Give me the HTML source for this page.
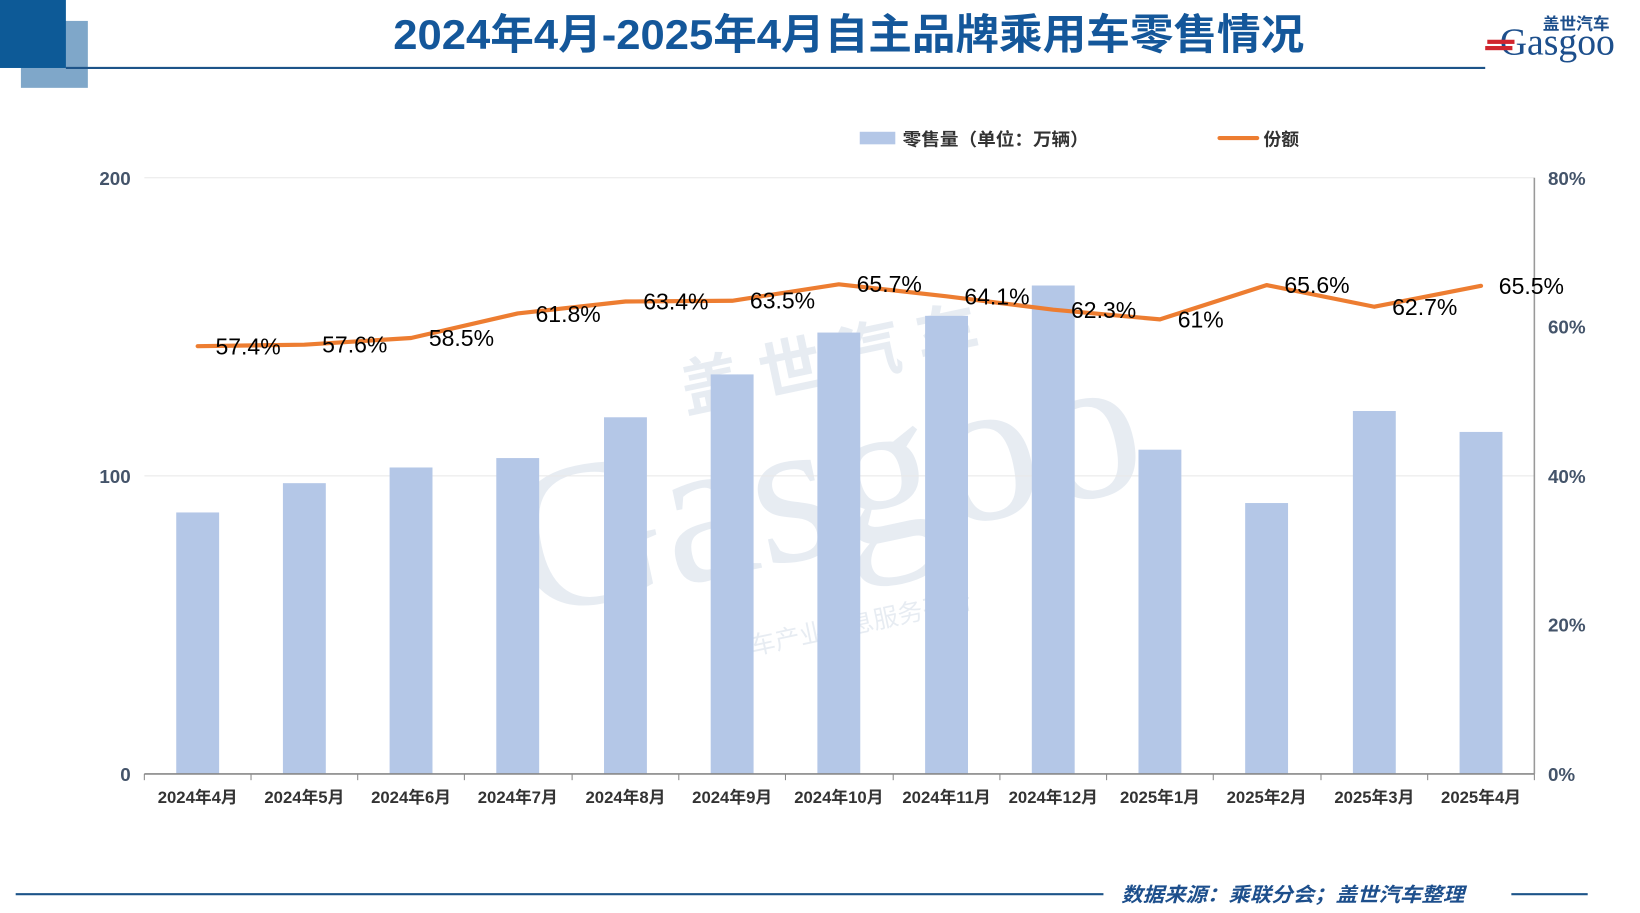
<!DOCTYPE html>
<html><head><meta charset="utf-8"><style>html,body{margin:0;padding:0;background:#fff}svg{display:block}</style></head>
<body>
<svg width="1640" height="913" viewBox="0 0 1568 873" preserveAspectRatio="none" xmlns="http://www.w3.org/2000/svg" font-family="Liberation Sans, Noto Sans CJK SC, sans-serif">
<rect x="20" y="20" width="64" height="64" fill="#7fa7c9"/>
<rect x="0" y="0" width="63" height="65" fill="#0d5a97"/>
<line x1="63" y1="65" x2="1420" y2="65" stroke="#1d5489" stroke-width="2"/>
<text x="376" y="47" textLength="871" lengthAdjust="spacingAndGlyphs" font-size="40" font-weight="bold" fill="#14579a">2024年4月-2025年4月自主品牌乘用车零售情况</text>
<!-- logo -->
<g>
<text x="1475" y="28" font-size="16" font-weight="bold" fill="#1d4f8c">盖世汽车</text>
<text x="1434" y="52" font-size="36" fill="#1d4f8c" font-family="Liberation Serif, serif">Gasgoo</text>
<rect x="1422" y="38" width="26" height="4" fill="#d0262e"/>
<rect x="1420" y="44" width="26" height="4" fill="#d0262e"/>
</g>
<!-- watermark -->
<g opacity="0.1" fill="#1d4f8c">
<text x="480" y="530" font-size="200" font-family="Liberation Serif, serif" transform="rotate(-12 780 450)">Gasgoo</text>
<text x="670" y="370" font-size="60" font-weight="bold" transform="rotate(-12 780 450)">盖 世 汽 车</text>
<text x="660" y="610" font-size="24" transform="rotate(-12 780 450)">汽车产业信息服务平台</text>
</g>
<!-- grid -->
<g stroke="#e8e8e8" stroke-width="1">
<line x1="138" y1="170" x2="1467" y2="170"/>
<line x1="138" y1="455" x2="1467" y2="455"/>
</g>
<line x1="1467" y1="170" x2="1467" y2="740" stroke="#999" stroke-width="1.5"/>
<!-- bars -->
<g fill="#b4c7e7">
<rect x="168.5" y="490" width="41" height="250"/>
<rect x="270.5" y="462" width="41" height="278"/>
<rect x="372.5" y="447" width="41" height="293"/>
<rect x="474.5" y="438" width="41" height="302"/>
<rect x="577.5" y="399" width="41" height="341"/>
<rect x="679.5" y="358" width="41" height="382"/>
<rect x="781.5" y="318" width="41" height="422"/>
<rect x="884.5" y="302" width="41" height="438"/>
<rect x="986.5" y="273" width="41" height="467"/>
<rect x="1088.5" y="430" width="41" height="310"/>
<rect x="1190.5" y="481" width="41" height="259"/>
<rect x="1293.5" y="393" width="41" height="347"/>
<rect x="1395.5" y="413" width="41" height="327"/>
</g>
<line x1="138" y1="740" x2="1467" y2="740" stroke="#888" stroke-width="1.5"/>
<g stroke="#888" stroke-width="1">
<line x1="138" y1="740" x2="138" y2="746"/><line x1="240" y1="740" x2="240" y2="746"/><line x1="342" y1="740" x2="342" y2="746"/><line x1="444" y1="740" x2="444" y2="746"/><line x1="547" y1="740" x2="547" y2="746"/><line x1="649" y1="740" x2="649" y2="746"/><line x1="751" y1="740" x2="751" y2="746"/><line x1="854" y1="740" x2="854" y2="746"/><line x1="956" y1="740" x2="956" y2="746"/><line x1="1058" y1="740" x2="1058" y2="746"/><line x1="1160" y1="740" x2="1160" y2="746"/><line x1="1263" y1="740" x2="1263" y2="746"/><line x1="1365" y1="740" x2="1365" y2="746"/><line x1="1467" y1="740" x2="1467" y2="746"/>
</g>
<!-- line -->
<polyline fill="none" stroke="#ed7d31" stroke-width="4" stroke-linejoin="round" stroke-linecap="round"
points="189,331 291,329.6 393,323.2 495,299.7 598,288.3 700,287.6 802,271.9 905,283.3 1007,296.1 1109,305.4 1211,272.6 1314,293.3 1416,273.3"/>
<g font-size="22" fill="#000">
<text x="206" y="339">57.4%</text>
<text x="308" y="337">57.6%</text>
<text x="410" y="331">58.5%</text>
<text x="512" y="308">61.8%</text>
<text x="615" y="296">63.4%</text>
<text x="717" y="295">63.5%</text>
<text x="819" y="279">65.7%</text>
<text x="922" y="291">64.1%</text>
<text x="1024" y="304">62.3%</text>
<text x="1126" y="313">61%</text>
<text x="1228" y="280">65.6%</text>
<text x="1331" y="301">62.7%</text>
<text x="1433" y="281">65.5%</text>
</g>
<!-- axes labels -->
<g font-size="18" font-weight="bold" fill="#44546a" text-anchor="end">
<text x="125" y="177">200</text><text x="125" y="462">100</text><text x="125" y="747">0</text>
</g>
<g font-size="18" font-weight="bold" fill="#44546a">
<text x="1480" y="177">80%</text><text x="1480" y="319">60%</text><text x="1480" y="462">40%</text><text x="1480" y="604">20%</text><text x="1480" y="747">0%</text>
</g>
<g font-size="16" font-weight="bold" fill="#333" text-anchor="middle">
<text x="189" y="768">2024年4月</text><text x="291" y="768">2024年5月</text><text x="393" y="768">2024年6月</text><text x="495" y="768">2024年7月</text><text x="598" y="768">2024年8月</text><text x="700" y="768">2024年9月</text><text x="802" y="768">2024年10月</text><text x="905" y="768">2024年11月</text><text x="1007" y="768">2024年12月</text><text x="1109" y="768">2025年1月</text><text x="1211" y="768">2025年2月</text><text x="1314" y="768">2025年3月</text><text x="1416" y="768">2025年4月</text>
</g>
<!-- legend -->
<rect x="822" y="126" width="34" height="12" fill="#b4c7e7"/>
<text x="863" y="139" font-size="17" font-weight="bold" fill="#333" textLength="178" lengthAdjust="spacingAndGlyphs">零售量（单位：万辆）</text>
<line x1="1166" y1="132" x2="1202" y2="132" stroke="#ed7d31" stroke-width="4" stroke-linecap="round"/>
<text x="1208" y="139" font-size="17" font-weight="bold" fill="#333">份额</text>
<!-- footer -->
<line x1="15" y1="855" x2="1055" y2="855" stroke="#1d5489" stroke-width="2"/>
<line x1="1445" y1="855" x2="1518" y2="855" stroke="#1d5489" stroke-width="2"/>
<text x="1072" y="862" font-size="19" font-style="italic" font-weight="bold" fill="#1d4f8c" textLength="328" lengthAdjust="spacingAndGlyphs">数据来源：乘联分会；盖世汽车整理</text>
</svg>
</body></html>
